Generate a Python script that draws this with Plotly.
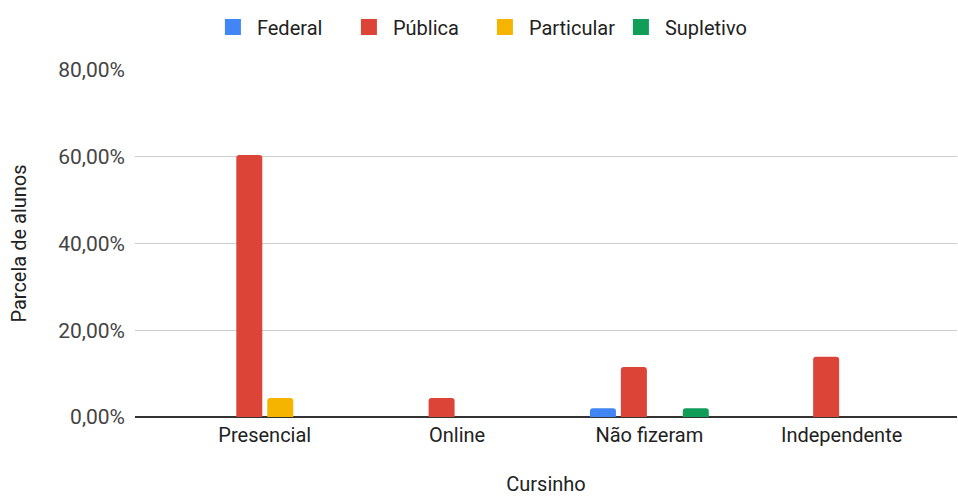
import plotly.graph_objects as go

categories = ["Presencial", "Online", "Não fizeram", "Independente"]
federal = [0, 0, 2.0, 0]
publica = [60.4, 4.4, 11.5, 13.9]
particular = [4.4, 0, 0, 0]
supletivo = [0, 0, 2.0, 0]
series_names = ["Federal", "Pública", "Particular", "Supletivo"]
colors = ["#4285F4", "#DB4437", "#F4B400", "#0F9D58"]
y_tickvals = [0, 20, 40, 60, 80]
y_ticktext = ["0,00%", "20,00%", "40,00%", "60,00%", "80,00%"]

fig = go.Figure()
for name, vals, col in zip(series_names, [federal, publica, particular, supletivo], colors):
    fig.add_trace(go.Bar(x=categories, y=vals, name=name, marker_color=col,
                         marker_line_width=0, showlegend=False, legendgroup=name))
# legend entries with larger square swatches
for name, col in zip(series_names, colors):
    fig.add_trace(go.Scatter(x=[categories[0]], y=[None], mode="markers", name=name,
                             legendgroup=name,
                             marker=dict(symbol="square", size=16, color=col),
                             hoverinfo="skip"))

font_family = "Roboto, Arial, sans-serif"
txt = "#444444"
fig.update_layout(
    width=958, height=496,
    margin=dict(l=135, r=1, t=70, b=79),
    plot_bgcolor="white", paper_bgcolor="white",
    barmode="group", bargap=0.356, bargroupgap=0.16, barcornerradius=3,
    font=dict(family=font_family, size=20, color=txt),
    legend=dict(orientation="h", xref="container", x=0.502, xanchor="center",
                yref="container", y=0.985, yanchor="top",
                font=dict(size=20, color="#222222"), itemwidth=38,
                entrywidth=83, entrywidthmode="pixels",
                traceorder="normal", itemsizing="trace"),
    xaxis=dict(range=[-0.675, 3.6], showgrid=False, ticks="", showline=False,
               tickfont=dict(size=20, color="#222222"), ticklabelstandoff=4,
               title=dict(text="Cursinho", font=dict(size=20, color="#222222"), standoff=40),
               automargin=False),
    yaxis=dict(range=[0, 80], tickvals=y_tickvals, ticktext=y_ticktext,
               showgrid=True, gridcolor="#cccccc", gridwidth=1,
               zeroline=True, zerolinecolor="#333333", zerolinewidth=2,
               ticks="", ticklabelstandoff=9, showline=False,
               tickfont=dict(size=21, color=txt),
               title=dict(text="Parcela de alunos", font=dict(size=20, color="#222222"), standoff=26),
               automargin=False),
)
fig.write_html("out.html")
